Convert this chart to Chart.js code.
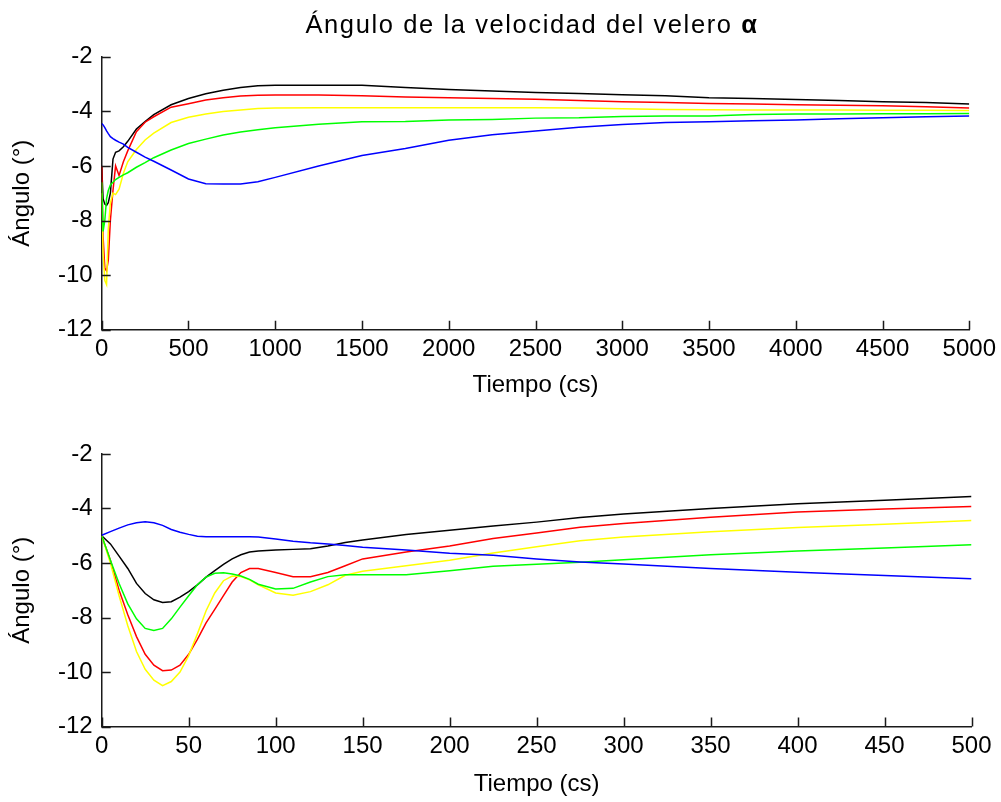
<!DOCTYPE html>
<html>
<head>
<meta charset="utf-8">
<script src="https://cdn.jsdelivr.net/npm/chart.js@4.4.1/dist/chart.umd.min.js"></script>
<style>
  html, body { margin: 0; padding: 0; background: #fff; }
  #wrap { position: relative; width: 1001px; height: 802px; overflow: hidden; }
  canvas { position: absolute; left: 0; display: block; }
  #c1 { top: 0; }
  #c2 { top: 401px; }
  #title {
    position: absolute; left: 97px; width: 870px; top: 9px;
    font-family: "Liberation Sans", Arial, sans-serif; font-size: 25.5px; line-height: 30px;
    letter-spacing: 1.6px; text-align: center; color: #000; white-space: nowrap;
  }
  #title b { font-weight: bold; }
</style>
</head>
<body>
<div id="wrap">
  <canvas id="c1" width="1001" height="401"></canvas>
  <canvas id="c2" width="1001" height="401"></canvas>
  <div id="title">Ángulo de la velocidad del velero <b>α</b></div>
</div>
<script>
// ---------- Data ----------
const yTicks = [-12, -10, -8, -6, -4, -2];
const topXTicks = [0, 500, 1000, 1500, 2000, 2500, 3000, 3500, 4000, 4500, 5000];
const botXTicks = [0, 50, 100, 150, 200, 250, 300, 350, 400, 450, 500];

const topTime = [0, 8, 18, 28, 38, 50, 65, 80, 100, 125, 150, 200, 250, 300, 400, 500, 600, 700, 800, 900, 1000, 1250, 1500, 1750, 2000, 2250, 2500, 2750, 3000, 3250, 3500, 3750, 4000, 4250, 4500, 4750, 5000];
const topBlack = [-6.0, -7.2, -7.4, -7.45, -7.35, -7.0, -5.75, -5.5, -5.45, -5.3, -5.1, -4.65, -4.38, -4.12, -3.76, -3.53, -3.36, -3.23, -3.13, -3.06, -3.05, -3.05, -3.05, -3.13, -3.2, -3.26, -3.31, -3.35, -3.39, -3.43, -3.5, -3.53, -3.57, -3.6, -3.65, -3.68, -3.73];
const topRed = [-6.0, -8.6, -9.75, -9.85, -9.45, -8.0, -6.9, -6.0, -6.35, -5.85, -5.45, -4.75, -4.4, -4.2, -3.85, -3.72, -3.59, -3.5, -3.44, -3.41, -3.4, -3.4, -3.43, -3.48, -3.5, -3.53, -3.56, -3.6, -3.65, -3.68, -3.71, -3.73, -3.76, -3.78, -3.8, -3.83, -3.88];
const topYellow = [-7.0, -9.2, -10.2, -10.35, -8.3, -7.35, -7.0, -7.05, -6.85, -6.27, -5.85, -5.4, -5.05, -4.8, -4.41, -4.22, -4.1, -4.01, -3.95, -3.9, -3.88, -3.87, -3.87, -3.87, -3.87, -3.87, -3.87, -3.88, -3.91, -3.93, -3.94, -3.95, -3.95, -3.95, -3.96, -3.96, -3.97];
const topGreen = [-6.6, -8.4, -8.0, -7.2, -6.9, -6.7, -6.6, -6.5, -6.42, -6.33, -6.25, -6.05, -5.88, -5.7, -5.42, -5.18, -5.02, -4.87, -4.76, -4.68, -4.6, -4.47, -4.38, -4.37, -4.32, -4.3, -4.25, -4.24, -4.19, -4.17, -4.17, -4.12, -4.1, -4.1, -4.09, -4.09, -4.08];
const topBlue = [-4.45, -4.5, -4.6, -4.72, -4.82, -4.93, -5.0, -5.06, -5.13, -5.2, -5.32, -5.5, -5.68, -5.83, -6.15, -6.48, -6.65, -6.66, -6.66, -6.58, -6.42, -6.0, -5.62, -5.36, -5.06, -4.86, -4.72, -4.58, -4.48, -4.41, -4.38, -4.35, -4.32, -4.27, -4.24, -4.2, -4.17];

const botTime = [0, 5, 10, 15, 20, 25, 30, 35, 40, 45, 50, 55, 60, 65, 70, 75, 80, 85, 90, 100, 110, 120, 130, 140, 150, 175, 200, 225, 250, 275, 300, 350, 400, 450, 500];
const botBlack = [-5.0, -5.3, -5.75, -6.2, -6.75, -7.12, -7.35, -7.45, -7.42, -7.25, -7.05, -6.8, -6.52, -6.28, -6.05, -5.85, -5.7, -5.6, -5.56, -5.52, -5.5, -5.48, -5.38, -5.25, -5.16, -4.95, -4.8, -4.64, -4.5, -4.33, -4.2, -4.0, -3.83, -3.7, -3.56];
const botRed = [-5.0, -5.9, -7.0, -7.9, -8.7, -9.35, -9.75, -9.95, -9.93, -9.75, -9.35, -8.8, -8.2, -7.7, -7.2, -6.7, -6.35, -6.2, -6.2, -6.35, -6.5, -6.5, -6.35, -6.1, -5.85, -5.6, -5.38, -5.1, -4.9, -4.69, -4.55, -4.32, -4.13, -4.02, -3.93];
const botYellow = [-5.0, -6.0, -7.2, -8.3, -9.25, -9.9, -10.3, -10.5, -10.35, -10.0, -9.4, -8.6, -7.75, -7.1, -6.65, -6.48, -6.5, -6.62, -6.8, -7.1, -7.18, -7.05, -6.8, -6.45, -6.3, -6.1, -5.9, -5.63, -5.4, -5.18, -5.05, -4.85, -4.7, -4.58, -4.44];
const botGreen = [-5.0, -5.9, -6.75, -7.5, -8.05, -8.4, -8.48, -8.4, -8.05, -7.62, -7.2, -6.8, -6.52, -6.38, -6.36, -6.4, -6.48, -6.6, -6.78, -6.95, -6.93, -6.7, -6.5, -6.43, -6.43, -6.43, -6.28, -6.12, -6.05, -5.97, -5.88, -5.7, -5.56, -5.45, -5.33];
const botBlue = [-4.98, -4.85, -4.72, -4.6, -4.52, -4.49, -4.52, -4.62, -4.77, -4.87, -4.95, -5.02, -5.04, -5.04, -5.04, -5.04, -5.04, -5.04, -5.05, -5.12, -5.2, -5.26, -5.3, -5.36, -5.42, -5.52, -5.64, -5.72, -5.85, -5.96, -6.04, -6.2, -6.34, -6.46, -6.58];

const xTitle = 'Tiempo (cs)';
const yTitle = 'Ángulo (°)';

// ---------- Chart building ----------
const FONT = '"Liberation Sans", Arial, sans-serif';

const inwardTicks = {
  id: 'inwardTicks',
  afterDraw(chart) {
    const { ctx, chartArea: a, scales: { x, y } } = chart;
    ctx.save();
    ctx.strokeStyle = '#1a1a1a';
    ctx.lineWidth = 1.5;
    ctx.beginPath();
    x.ticks.forEach(t => {
      const px = Math.round(x.getPixelForValue(t.value)) + 0.5;
      ctx.moveTo(px, a.bottom);
      ctx.lineTo(px, a.bottom - 9);
    });
    y.ticks.forEach(t => {
      const py = Math.round(y.getPixelForValue(t.value)) + 0.5;
      ctx.moveTo(a.left, py);
      ctx.lineTo(a.left + 9, py);
    });
    ctx.stroke();
    ctx.restore();
  }
};

function series(time, vals, color) {
  return {
    data: time.map((t, i) => ({ x: t, y: vals[i] })),
    borderColor: color,
    backgroundColor: color,
    borderWidth: 1.5,
    pointRadius: 0,
    tension: 0,
    fill: false
  };
}

function makeChart(id, time, sets, xTicks, xMax, padTop, padBottom, xHeight) {
  return new Chart(document.getElementById(id), {
    type: 'line',
    data: {
      datasets: [
        series(time, sets.blue, '#0000ff'),
        series(time, sets.green, '#00ff00'),
        series(time, sets.yellow, '#ffff00'),
        series(time, sets.red, '#ff0000'),
        series(time, sets.black, '#000000')
      ]
    },
    options: {
      responsive: false,
      animation: false,
      events: [],
      layout: { padding: { top: padTop, right: 29.5, bottom: padBottom, left: 0 } },
      plugins: { legend: { display: false }, tooltip: { enabled: false }, title: { display: false } },
      scales: {
        x: {
          type: 'linear', min: 0, max: xMax,
          afterBuildTicks: s => { s.ticks = xTicks.map(v => ({ value: v })); },
          afterFit: s => { s.height = xHeight; },
          grid: { display: false, drawTicks: false },
          border: { display: true, color: '#1a1a1a', width: 1.5 },
          ticks: { color: '#000', font: { family: FONT, size: 24 }, padding: 5, maxRotation: 0, autoSkip: false,
                   callback: v => String(v) },
          title: { display: true, text: xTitle, color: '#000', font: { family: FONT, size: 24 }, padding: { top: 0, bottom: 1 } }
        },
        y: {
          type: 'linear', min: -12, max: -2,
          afterBuildTicks: s => { s.ticks = yTicks.map(v => ({ value: v })); },
          afterFit: s => { s.width = 101.7; },
          grid: { display: false, drawTicks: false },
          border: { display: true, color: '#1a1a1a', width: 1.5 },
          ticks: { color: '#000', font: { family: FONT, size: 24 }, padding: 9, autoSkip: false,
                   callback: v => String(v) },
          title: { display: true, text: yTitle, color: '#000', font: { family: FONT, size: 24 }, padding: { top: 8, bottom: 0 } }
        }
      }
    },
    plugins: [inwardTicks]
  });
}

makeChart('c1', topTime,
  { black: topBlack, red: topRed, yellow: topYellow, green: topGreen, blue: topBlue },
  topXTicks, 5000, 56.7, 0, 71.3);
makeChart('c2', botTime,
  { black: botBlack, red: botRed, yellow: botYellow, green: botGreen, blue: botBlue },
  botXTicks, 500, 53, 2.6, 72.9);
</script>
</body>
</html>
